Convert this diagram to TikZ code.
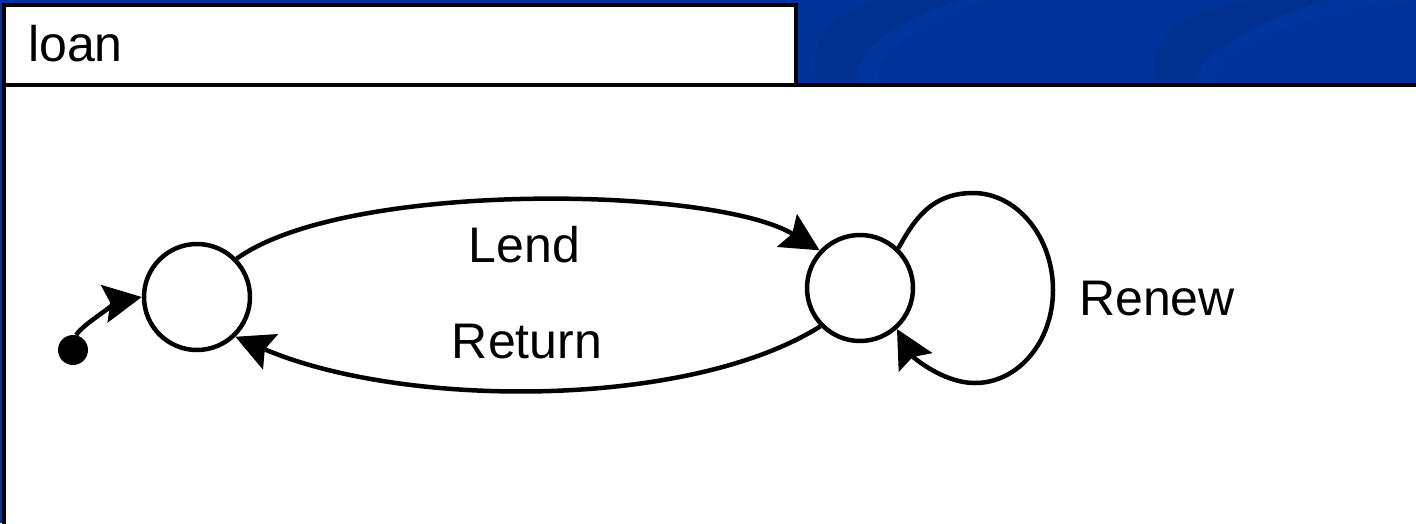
\documentclass[tikz,border=0pt]{standalone}
\usepackage{fontspec}
\setmainfont{Liberation Sans}
\usetikzlibrary{arrows.meta}
\definecolor{bgblue}{HTML}{003399}
\definecolor{arcblue}{HTML}{003190}
\definecolor{arcblue2}{HTML}{00359D}
\tikzset{
  frame/.style={draw=black, line width=4pt, fill=white},
  state/.style={circle, draw=black, fill=white, line width=4.5pt, minimum size=106pt, inner sep=0pt},
  startdot/.style={circle, fill=black, inner sep=0pt, minimum size=30pt},
  arr/.style={line width=4.5pt, -{Stealth[length=38pt,width=38pt,inset=6pt]}},
  lbl/.style={font=\fontsize{50}{60}\selectfont, inner sep=0pt, anchor=base}
}
\begin{document}
\begin{tikzpicture}[x=1pt,y=-1pt]
\useasboundingbox (0,0) rectangle (1416,523);
\fill[bgblue] (0,0) rectangle (1416,523);
% subtle decoration in the top band
\begin{scope}
\clip (799,0) rectangle (1416,83);
\fill[arcblue] (818,84) .. controls (805,40) and (830,12) .. (880,0) -- (960,0)
   .. controls (900,20) and (850,50) .. (858,84) -- cycle;
\fill[arcblue2] (858,84) .. controls (850,50) and (900,20) .. (960,0) -- (990,0)
   .. controls (920,25) and (870,55) .. (880,84) -- cycle;
\fill[arcblue] (1160,84) .. controls (1140,50) and (1170,15) .. (1250,0) -- (1330,0)
   .. controls (1260,20) and (1200,50) .. (1195,84) -- cycle;
\fill[arcblue2] (1195,84) .. controls (1200,50) and (1260,20) .. (1330,0) -- (1416,0)
   .. controls (1300,15) and (1220,50) .. (1215,84) -- cycle;
\end{scope}
% frames
\draw[frame] (4,84.5) rectangle (1430,540);
\draw[frame] (4,4.5) rectangle (796,84.5);
\node[lbl, anchor=base west] (title) at (28,61) {loan};
% states
\node[state] (L) at (197,297) {};
\node[state] (R) at (860,288) {};
\node[startdot] (I) at (73,350) {};
% connectors
\draw[arr] (I.78) .. controls (83,323) and (125,300) .. (L.180);
\draw[arr] (L.44) .. controls (346,180) and (714,186) .. (R.137);
\draw[arr] (R.224) .. controls (689,409) and (404,409) .. (L.-46);
\coordinate (rt) at (973,193);
\coordinate (rr) at (1053,290);
\coordinate (rb) at (975,383);
\draw[arr] (R.46) .. controls (913,222) and (930,193) .. (rt)
   .. controls (1017,193) and (1053,237) .. (rr)
   .. controls (1053,342) and (1018,383) .. (rb)
   .. controls (942,383) and (912,356) .. (R.-48);
% labels
\node[lbl] (lend) at (524.5,262) {Lend};
\node[lbl] (ret) at (527,358) {Return};
\node[lbl] (renew) at (1157,315) {Renew};
\end{tikzpicture}
\end{document}
